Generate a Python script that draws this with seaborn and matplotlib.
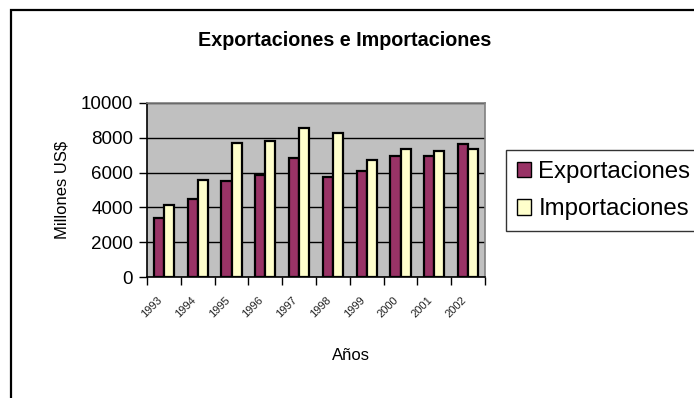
import numpy as np
import pandas as pd
import matplotlib
matplotlib.use("Agg")
import matplotlib.pyplot as plt
import matplotlib.transforms as mtransforms
from matplotlib.patches import Rectangle
import seaborn as sns

# Comercio exterior, millones de US$
anios = ["1993", "1994", "1995", "1996", "1997", "1998", "1999", "2000", "2001", "2002"]
exportaciones = [3370, 4460, 5540, 5850, 6830, 5750, 6080, 6940, 6940, 7620]
importaciones = [4120, 5560, 7710, 7810, 8560, 8250, 6710, 7380, 7270, 7380]
series = ["Exportaciones", "Importaciones"]
colores = ["#993366", "#FFFFCC"]

df = pd.DataFrame({
    "Año": anios * 2,
    "Valor": exportaciones + importaciones,
    "Serie": [series[0]] * len(anios) + [series[1]] * len(anios),
})

sns.set_theme(style="white")
plt.rcParams["font.family"] = ["Liberation Sans", "DejaVu Sans"]
for key in ("text.color", "axes.labelcolor", "xtick.color", "ytick.color"):
    plt.rcParams[key] = "black"

W, H = 694, 398
fig = plt.figure(figsize=(W / 100, H / 100), dpi=100)
fig.patch.set_facecolor("white")

def px(x0, y0, x1, y1):
    return [x0 / W, 1 - y1 / H, (x1 - x0) / W, (y1 - y0) / H]

ax = fig.add_axes(px(147, 103, 485, 277))
ax.set_facecolor("#C0C0C0")

sns.barplot(data=df, x="Año", y="Valor", hue="Serie", palette=colores,
            width=0.6, gap=0, edgecolor="black", linewidth=1.6,
            saturation=1, ax=ax, legend=False, zorder=3)

ax.set_ylim(0, 10000)
ax.set_xlim(-0.5, len(anios) - 0.5)
ax.set_yticks(np.arange(0, 10001, 2000))
ax.set_yticklabels([str(v) for v in range(0, 10001, 2000)], fontsize=13.5)
ax.grid(axis="y", color="black", linewidth=1.0, zorder=1)
ax.set_axisbelow(True)

ax.set_xticks(np.arange(len(anios)))
ax.set_xticklabels(anios, rotation=45, ha="right", va="top", fontsize=8,
                   color="#222222")
shift = mtransforms.ScaledTranslation(-6 / 100, 0, fig.dpi_scale_trans)
for lbl in ax.get_xticklabels():
    lbl.set_transform(lbl.get_transform() + shift)
ax.set_xticks(np.arange(len(anios) + 1) - 0.5, minor=True)
ax.tick_params(axis="x", which="major", length=0, pad=13)
ax.tick_params(axis="x", which="minor", length=6, width=1, color="black",
               direction="out", bottom=True)
ax.tick_params(axis="y", length=6, width=1, color="black", direction="out",
               left=True, pad=4)

for side in ("left", "bottom"):
    ax.spines[side].set_color("black")
    ax.spines[side].set_linewidth(1.2)
for side in ("top", "right"):
    ax.spines[side].set_color("#808080")
    ax.spines[side].set_linewidth(1.2)

ax.set_xlabel("Años", fontsize=12)
ax.xaxis.set_label_coords((351 - 147) / 338, -(355 - 277) / 174, transform=ax.transAxes)
ax.xaxis.label.set_va("center")
ax.set_ylabel("Millones US$", fontsize=12, labelpad=8)

fig.text(345 / W, 1 - 40 / H, "Exportaciones e Importaciones",
         ha="center", va="center", fontsize=14.2, fontweight="bold")

handles = [Rectangle((0, 0), 1, 1, facecolor=c, edgecolor="black", linewidth=1)
           for c in colores]
leg = fig.legend(handles, series, loc="upper left",
                 bbox_to_anchor=(506 / W, 1 - 150 / H), fontsize=17.3,
                 frameon=True, fancybox=False, handlelength=0.6,
                 handleheight=0.6, handletextpad=0.3, labelspacing=0.65,
                 borderpad=0.45, borderaxespad=0)
leg.get_frame().set_edgecolor("black")
leg.get_frame().set_linewidth(1.0)

# Marco del gráfico
fig.add_artist(Rectangle((11 / W, -0.2), 1.5, 1.2 - 10 / H,
                         transform=fig.transFigure, fill=False,
                         edgecolor="black", linewidth=1.6))

fig.savefig("out.png", dpi=100)
